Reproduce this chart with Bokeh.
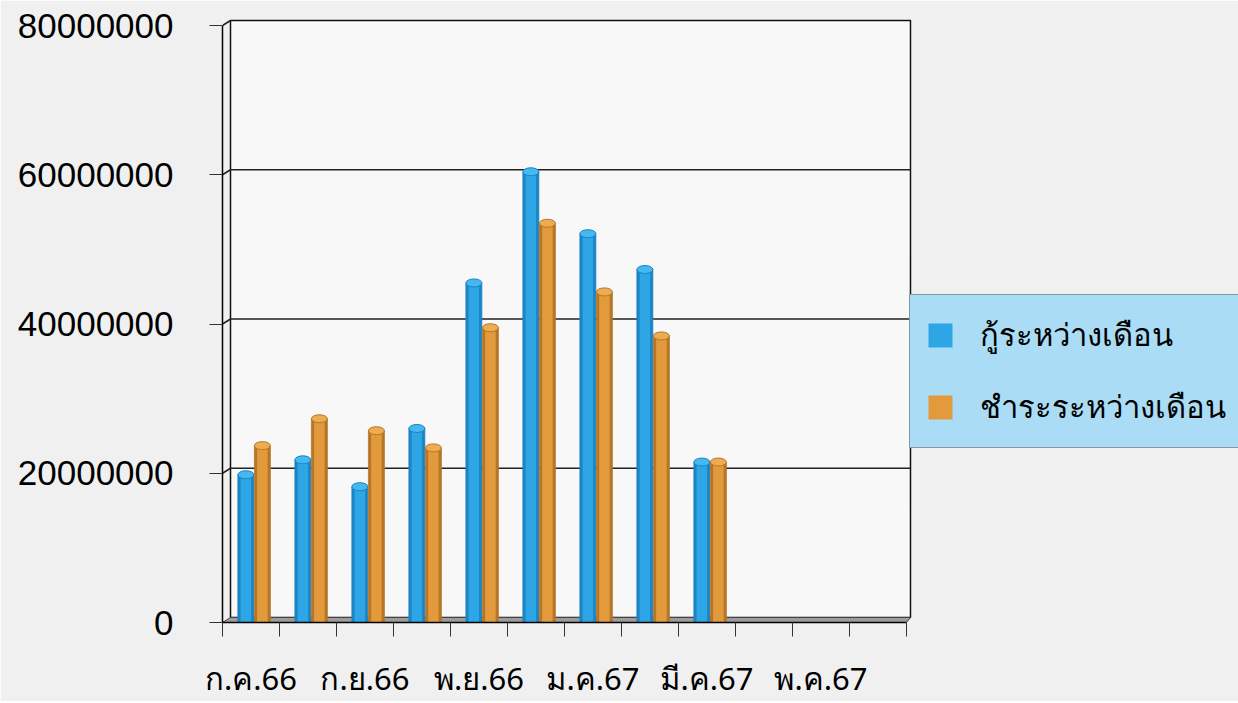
import numpy as np
from bokeh.plotting import figure
from bokeh.models import (Range1d, LinearAxis, FixedTicker, BasicTickFormatter,
                          Legend, LegendItem, ColumnDataSource)
from bokeh.embed import file_html
from bokeh.resources import INLINE

# ---------------- data ----------------
months = ["ก.ค.66", "ส.ค.66", "ก.ย.66", "ต.ค.66", "พ.ย.66", "ธ.ค.66",
          "ม.ค.67", "ก.พ.67", "มี.ค.67", "เม.ย.67", "พ.ค.67", "มิ.ย.67"]
borrow = [19800000, 21800000, 18200000, 26000000, 45500000, 60400000,
          52100000, 47300000, 21500000]
repay = [23700000, 27300000, 25700000, 23400000, 39500000, 53500000,
         44300000, 38400000, 21500000]
series_names = ["กู้ระหว่างเดือน", "ชำระระหว่างเดือน"]
y_ticks = [0, 20000000, 40000000, 60000000, 80000000]
label_every = 2

# ---------------- geometry / style ----------------
CAT_PX = 57.0
LEFT = 222
TOP = 15
FRAME_W = 1238 - LEFT
FRAME_H = 607
Y_MAX = 80000000
PX_PER_UNIT = 597.0 / Y_MAX
Y_END = Y_MAX + 10 / PX_PER_UNIT
DY = 5 / PX_PER_UNIT          # depth offset (vertical) in data units
DX = 8 / CAT_PX               # depth offset (horizontal) in data units
N = len(months)

BG = "#f0f0f0"
BLUE, BLUE_D, BLUE_T = "#2ea6e6", "#1b84c4", "#45b8f2"
ORNG, ORNG_D, ORNG_T = "#e29a3c", "#b57627", "#eeac52"

p = figure(x_range=Range1d(0, FRAME_W / CAT_PX), y_range=Range1d(0, Y_END),
           frame_width=FRAME_W, frame_height=FRAME_H,
           min_border_left=LEFT, min_border_right=0, min_border_top=TOP,
           min_border_bottom=60, output_backend="svg", toolbar_location=None,
           x_axis_type=None, y_axis_type=None,
           background_fill_color=BG, border_fill_color=BG,
           outline_line_color=None)
p.extra_y_ranges = {"back": Range1d(-DY, Y_END - DY)}

# back wall
p.quad(left=DX, right=N + 0.07, bottom=0, top=Y_MAX, y_range_name="back",
       fill_color="#f8f8f8", line_color="#111111", line_width=1.5)
# gridlines on back wall
gv = y_ticks[1:-1]
p.segment(x0=[DX] * len(gv), x1=[N + 0.07] * len(gv), y0=gv, y1=gv,
          y_range_name="back", line_color="#222222", line_width=1.5)
# small connectors from front axis to back wall
cv = y_ticks[1:]
p.segment(x0=[0] * len(cv), x1=[DX] * len(cv), y0=cv,
          y1=[v + DY for v in cv], line_color="#222222", line_width=1.5)
# floor
p.patch(x=[0, N, N + 0.07, DX], y=[0, 0, DY, DY], fill_color="#9c9c9c",
        line_color="#444444", line_width=1)

# bars (cylinders)
W = 0.28
nb = len(borrow)
src_b = ColumnDataSource(dict(x=np.arange(nb) + 0.41, top=borrow))
src_r = ColumnDataSource(dict(x=np.arange(nb) + 0.70, top=repay))
items = []
for src, main, dark, topc, name in [(src_b, BLUE, BLUE_D, BLUE_T, series_names[0]),
                                    (src_r, ORNG, ORNG_D, ORNG_T, series_names[1])]:
    p.vbar(x="x", top="top", bottom=0, width=W, source=src,
           fill_color=dark, line_color=None)
    r = p.vbar(x="x", top="top", bottom=0, width=W * 0.66, source=src,
               fill_color=main, line_color=None)
    p.vbar(x="x", top="top", bottom=0, width=W, source=src,
           fill_color=None, line_color=dark, line_width=0.8)
    p.ellipse(x="x", y="top", width=W, height=8, height_units="screen",
              source=src, fill_color=topc, line_color=dark, line_width=1)
    items.append(LegendItem(label=name, renderers=[r]))

# axes
yaxis = LinearAxis(ticker=FixedTicker(ticks=y_ticks),
                   formatter=BasicTickFormatter(use_scientific=False),
                   bounds=(0, Y_MAX), axis_line_color="black", axis_line_width=1.5,
                   major_tick_out=13, major_tick_in=0,
                   major_tick_line_color="#333333",
                   minor_tick_line_color=None,
                   major_label_text_font="Liberation Sans",
                   major_label_text_font_size="35px",
                   major_label_standoff=36, major_label_text_color="black")
p.add_layout(yaxis, "left")

lab_pos = [i + 0.5 for i in range(0, N, label_every)]
xaxis = LinearAxis(ticker=FixedTicker(ticks=lab_pos, minor_ticks=list(range(N + 1))),
                   bounds=(0, N), axis_line_color="black", axis_line_width=1.5,
                   major_label_overrides={pos: months[i] for pos, i in
                                          zip(lab_pos, range(0, N, label_every))},
                   major_tick_line_color=None, major_tick_out=14, major_tick_in=0,
                   minor_tick_out=14, minor_tick_in=0,
                   minor_tick_line_color="#333333",
                   major_label_standoff=20, major_label_text_font="Noto Sans",
                   major_label_text_font_size="31px",
                   major_label_text_color="black")
p.add_layout(xaxis, "below")

legend = Legend(items=items, location=(687, 174),
                background_fill_color="#aadcf5", background_fill_alpha=1,
                border_line_color="#555555", border_line_width=1.5,
                padding=15, spacing=22, glyph_width=30, glyph_height=30,
                label_height=30, label_standoff=25, margin=0,
                label_text_font="Noto Sans", label_text_font_size="31px",
                label_text_color="black")
p.add_layout(legend)

open("out.html", "w").write(file_html(p, INLINE))
